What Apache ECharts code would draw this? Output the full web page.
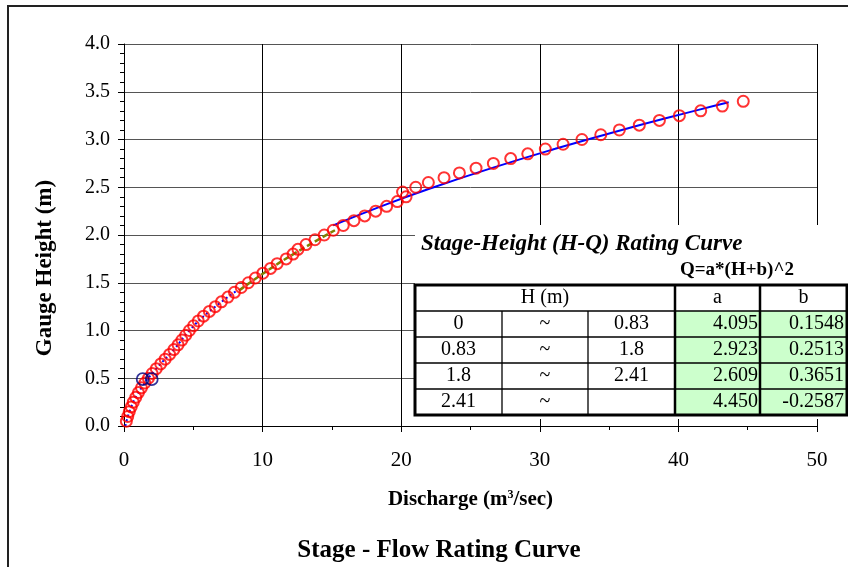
<!DOCTYPE html>
<html>
<head>
<meta charset="utf-8">
<script src="https://cdn.jsdelivr.net/npm/echarts@6/dist/echarts.min.js"></script>
<style>
html, body { margin: 0; padding: 0; background: #fff; }
#chart { width: 848px; height: 567px; }
</style>
</head>
<body>
<div id="chart"></div>
<script>
// observed stage (m) and discharge (m3/sec)
var gaugeH = [0.05, 0.10, 0.15, 0.20, 0.25, 0.30, 0.35, 0.40, 0.45, 0.50,
  0.55, 0.60, 0.65, 0.70, 0.75, 0.80, 0.85, 0.90, 0.95, 1.00,
  1.05, 1.10, 1.15, 1.20, 1.25, 1.30, 1.35, 1.40, 1.45, 1.50,
  1.55, 1.60, 1.65, 1.70, 1.75, 1.80, 1.85, 1.90, 1.95, 2.00,
  2.05, 2.10, 2.15, 2.20, 2.25, 2.30, 2.35, 2.40, 2.45, 2.50,
  2.55, 2.60, 2.65, 2.70, 2.75, 2.80, 2.85, 2.90, 2.95, 3.00,
  3.05, 3.10, 3.15, 3.20, 3.25, 3.30, 3.35, 3.40];
var dischargeQ = [0.17, 0.27, 0.38, 0.52, 0.67, 0.85, 1.04, 1.26, 1.50, 1.76,
  2.03, 2.33, 2.65, 2.97, 3.29, 3.60, 3.90, 4.18, 4.45, 4.72,
  5.02, 5.36, 5.74, 6.16, 6.59, 7.03, 7.50, 7.97, 8.46, 8.97,
  9.48, 10.02, 10.57, 11.05, 11.70, 12.20, 12.55, 13.13, 13.78, 14.45,
  15.10, 15.82, 16.59, 17.37, 18.16, 18.95, 19.72, 20.35, 20.10, 21.05,
  21.96, 23.09, 24.20, 25.40, 26.65, 27.90, 29.13, 30.40, 31.68, 33.04,
  34.40, 35.74, 37.18, 38.63, 40.07, 41.61, 43.17, 44.68];

// measured check points (navy circles)
var checkQ = [1.35, 2.00];
var checkH = [0.49, 0.49];

// fitted curves
var lowFitQ = [0.10, 0.52, 1.26, 2.33, 3.60, 4.72, 6.16, 8.17];
var lowFitH = [0.00, 0.20, 0.40, 0.60, 0.80, 1.00, 1.20, 1.42];
var midFitQ = [8.31, 10.07, 12.23, 15.22];
var midFitH = [1.42, 1.60, 1.80, 2.05];
var highFitQ = [15.09, 18.54, 22.35, 26.52, 31.05, 35.92, 41.16, 43.63];
var highFitH = [2.10, 2.30, 2.50, 2.70, 2.90, 3.10, 3.30, 3.39];

// rating table
var hFrom = ['0', '0.83', '1.8', '2.41'];
var hTo = ['0.83', '1.8', '2.41', ''];
var coefA = ['4.095', '2.923', '2.609', '4.450'];
var coefB = ['0.1548', '0.2513', '0.3651', '-0.2587'];

function pairs(xs, ys) {
  return xs.map(function (x, i) { return [x, ys[i]]; });
}

var serif = '"Liberation Serif", "Times New Roman", serif';
var chart = echarts.init(document.getElementById('chart'));

// table layout
var colX = [415, 502, 588, 675, 760, 847];
var rowY = [285, 311, 337, 363, 389, 415];
var g = [];
g.push({ type: 'rect', z: 100, shape: { x: 415, y: 225, width: 433, height: 194 }, style: { fill: '#fff' } });
g.push({ type: 'rect', z: 100, shape: { x: colX[3], y: rowY[1], width: colX[5] - colX[3], height: rowY[5] - rowY[1] }, style: { fill: '#ccffcc' } });
for (var r = 1; r < 5; r++) {
  g.push({ type: 'line', z: 101, shape: { x1: colX[0], y1: rowY[r], x2: colX[5], y2: rowY[r] }, style: { stroke: '#000', lineWidth: 1.3 } });
}
[1, 2].forEach(function (c) {
  g.push({ type: 'line', z: 101, shape: { x1: colX[c], y1: rowY[1], x2: colX[c], y2: rowY[5] }, style: { stroke: '#000', lineWidth: 1.3 } });
});
[3, 4].forEach(function (c) {
  g.push({ type: 'line', z: 101, shape: { x1: colX[c], y1: rowY[0], x2: colX[c], y2: rowY[5] }, style: { stroke: '#000', lineWidth: 2.5 } });
});
g.push({ type: 'rect', z: 102, shape: { x: colX[0], y: rowY[0], width: colX[5] - colX[0], height: rowY[5] - rowY[0] }, style: { fill: 'none', stroke: '#000', lineWidth: 3 } });

function cellText(txt, x, y, align) {
  return { type: 'text', z: 103, x: x, y: y,
    style: { text: txt, font: '20px ' + serif, fill: '#000', align: align, verticalAlign: 'middle' } };
}
g.push(cellText('H (m)', (colX[0] + colX[3]) / 2, (rowY[0] + rowY[1]) / 2, 'center'));
g.push(cellText('a', (colX[3] + colX[4]) / 2, (rowY[0] + rowY[1]) / 2, 'center'));
g.push(cellText('b', (colX[4] + colX[5]) / 2, (rowY[0] + rowY[1]) / 2, 'center'));
for (var i = 0; i < hFrom.length; i++) {
  var cy = (rowY[i + 1] + rowY[i + 2]) / 2;
  g.push(cellText(hFrom[i], (colX[0] + colX[1]) / 2, cy, 'center'));
  g.push(cellText('~', (colX[1] + colX[2]) / 2, cy, 'center'));
  g.push(cellText(hTo[i], (colX[2] + colX[3]) / 2, cy, 'center'));
  g.push(cellText(coefA[i], colX[4] - 2, cy, 'right'));
  g.push(cellText(coefB[i], colX[5] - 3, cy, 'right'));
}
g.push({ type: 'text', z: 103, x: 421, y: 244,
  style: { text: 'Stage-Height (H-Q) Rating Curve', font: 'italic bold 23px ' + serif, fill: '#000', align: 'left', verticalAlign: 'middle' } });
g.push({ type: 'text', z: 103, x: 737, y: 270,
  style: { text: 'Q=a*(H+b)^2', font: 'bold 19px ' + serif, fill: '#000', align: 'center', verticalAlign: 'middle' } });

// axis name and frame
g.push({ type: 'text', z: 103, x: 45, y: 268, rotation: Math.PI / 2,
  style: { text: 'Gauge Height (m)', font: 'bold 23px ' + serif, fill: '#000', align: 'center', verticalAlign: 'middle' } });
g.push({ type: 'rect', z: 103, shape: { x: 8, y: 6, width: 900, height: 600 }, style: { fill: 'none', stroke: '#222', lineWidth: 2 } });

var option = {
  backgroundColor: '#fff',
  animation: false,
  title: {
    text: 'Stage - Flow Rating Curve',
    left: 434, top: 533, textAlign: 'center',
    textStyle: { fontFamily: serif, fontWeight: 'bold', fontSize: 25, color: '#000' }
  },
  grid: { left: 124, right: 31, top: 44, bottom: 141 },
  xAxis: {
    type: 'value', min: 0, max: 50, interval: 10,
    name: 'Discharge (m{sup|3}/sec)',
    nameLocation: 'middle', nameGap: 63,
    nameTextStyle: {
      fontFamily: serif, fontWeight: 'bold', fontSize: 21, color: '#000',
      rich: { sup: { fontFamily: serif, fontWeight: 'bold', fontSize: 12, color: '#000', verticalAlign: 'top' } }
    },
    axisLine: { show: true, onZero: false, lineStyle: { color: '#000', width: 1 } },
    axisTick: { show: true, length: 6, lineStyle: { color: '#000' } },
    minorTick: { show: true, splitNumber: 2, length: 4, lineStyle: { color: '#000' } },
    splitLine: { show: true, lineStyle: { color: '#000', width: 1 } },
    axisLabel: { fontFamily: serif, fontSize: 21, color: '#000', margin: 24 }
  },
  yAxis: {
    type: 'value', min: 0, max: 4, interval: 0.5,
    axisLine: { show: true, onZero: false, lineStyle: { color: '#000', width: 1 } },
    axisTick: { show: true, length: 6, lineStyle: { color: '#000' } },
    minorTick: { show: true, splitNumber: 5, length: 4, lineStyle: { color: '#000' } },
    splitLine: { show: true, lineStyle: { color: '#555', width: 1 } },
    axisLabel: { fontFamily: serif, fontSize: 20, color: '#000', margin: 14,
      formatter: function (v) { return v.toFixed(1); } }
  },
  series: [
    {
      type: 'line', smooth: true, symbol: 'none', z: 3,
      data: pairs(lowFitQ, lowFitH),
      lineStyle: { color: '#0000ff', width: 2, type: [2, 3] }
    },
    {
      type: 'line', smooth: true, symbol: 'none', z: 3,
      data: pairs(midFitQ, midFitH),
      lineStyle: { color: '#808000', width: 2.5, type: [6, 3] }
    },
    {
      type: 'line', smooth: true, symbol: 'none', z: 3,
      data: pairs(highFitQ, highFitH),
      lineStyle: { color: '#0000ff', width: 2 }
    },
    {
      type: 'scatter', symbol: 'circle', symbolSize: 11, z: 4,
      data: pairs(dischargeQ, gaugeH),
      itemStyle: { color: 'rgba(0,0,0,0)', borderColor: '#ff0000', borderWidth: 2 }
    },
    {
      type: 'scatter', symbol: 'circle', symbolSize: 12, z: 5,
      data: pairs(checkQ, checkH),
      itemStyle: { color: 'rgba(0,0,0,0)', borderColor: '#000080', borderWidth: 1.8 }
    }
  ],
  graphic: g
};
chart.setOption(option);
</script>
</body>
</html>
